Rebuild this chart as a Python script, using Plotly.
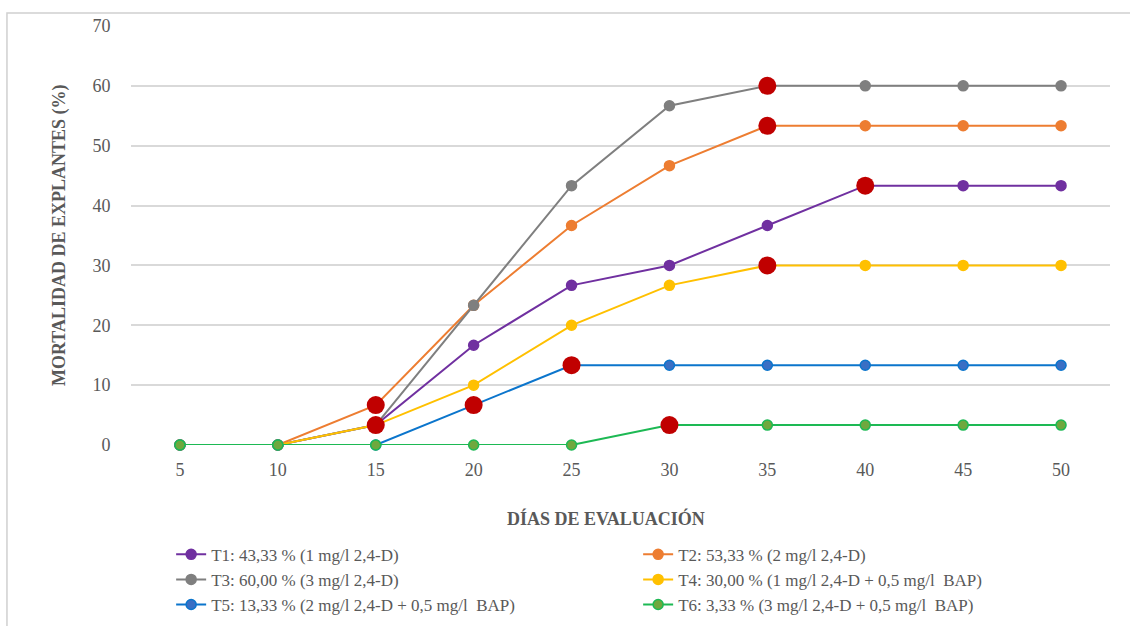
import plotly.graph_objects as go

# Días de evaluación y mortalidad (%) por tratamiento
dias = [5, 10, 15, 20, 25, 30, 35, 40, 45, 50]

t1 = [0, 0, 3.33, 16.67, 26.67, 30.00, 36.67, 43.33, 43.33, 43.33]
t2 = [0, 0, 6.67, 23.33, 36.67, 46.67, 53.33, 53.33, 53.33, 53.33]
t3 = [0, 0, 3.33, 23.33, 43.33, 56.67, 60.00, 60.00, 60.00, 60.00]
t4 = [0, 0, 3.33, 10.00, 20.00, 26.67, 30.00, 30.00, 30.00, 30.00]
t5 = [0, 0, 0, 6.67, 13.33, 13.33, 13.33, 13.33, 13.33, 13.33]
t6 = [0, 0, 0, 0, 0, 3.33, 3.33, 3.33, 3.33, 3.33]

nombres = [
    "T1: 43,33 % (1 mg/l 2,4-D)",
    "T2: 53,33 % (2 mg/l 2,4-D)",
    "T3: 60,00 % (3 mg/l 2,4-D)",
    "T4: 30,00 % (1 mg/l 2,4-D + 0,5 mg/l  BAP)",
    "T5: 13,33 % (2 mg/l 2,4-D + 0,5 mg/l  BAP)",
    "T6: 3,33 % (3 mg/l 2,4-D + 0,5 mg/l  BAP)",
]

# Puntos destacados (tratamiento, día)
destacados = [(2, 15), (4, 15), (5, 20), (5, 25), (6, 30),
              (3, 35), (2, 35), (4, 35), (1, 40)]

series = [t1, t2, t3, t4, t5, t6]
estilos = [
    dict(line="#7030A0", fill="#7030A0", edge="#7030A0"),
    dict(line="#ED7D31", fill="#ED7D31", edge="#ED7D31"),
    dict(line="#7F7F7F", fill="#7F7F7F", edge="#7F7F7F"),
    dict(line="#FFC000", fill="#FFC000", edge="#FFC000"),
    dict(line="#0B75CC", fill="#3A6FC4", edge="#0B75CC"),
    dict(line="#1DB954", fill="#6FA83E", edge="#1DB954"),
]

FONT = "Liberation Serif, Times New Roman, DejaVu Serif, serif"
GRIS = "#595959"

fig = go.Figure()
for vals, nombre, est in zip(series, nombres, estilos):
    fig.add_trace(go.Scatter(
        x=[str(d) for d in dias], y=vals, name=nombre,
        mode="lines+markers",
        line=dict(color=est["line"], width=2),
        marker=dict(size=10, color=est["fill"],
                    line=dict(color=est["edge"], width=1.5)),
        cliponaxis=False,
    ))

hx = [str(d) for _, d in destacados]
hy = [series[t - 1][dias.index(d)] for t, d in destacados]
fig.add_trace(go.Scatter(
    x=hx, y=hy, mode="markers", showlegend=False,
    marker=dict(size=18, color="#C00000"),
    cliponaxis=False,
))

fig.update_layout(
    width=1130, height=626,
    margin=dict(l=131, r=20, t=26, b=181, autoexpand=False),
    paper_bgcolor="white", plot_bgcolor="white",
    font=dict(family=FONT, color=GRIS, size=16),
    xaxis=dict(
        type="category", range=[-0.5, len(dias) - 0.5],
        showgrid=False, zeroline=False, showline=False,
        ticks="outside", ticklen=8, tickcolor="rgba(0,0,0,0)",
        tickfont=dict(family=FONT, size=18, color=GRIS),
    ),
    yaxis=dict(
        range=[0, 70], dtick=10, showgrid=True, gridcolor="#D9D9D9",
        gridwidth=1.5, zeroline=False, showline=False,
        ticks="outside", ticklen=16, tickcolor="rgba(0,0,0,0)",
        tickfont=dict(family=FONT, size=18, color=GRIS),
    ),
    legend=dict(
        orientation="h", x=0.041, xanchor="left", y=-0.219, yanchor="top",
        entrywidth=422, entrywidthmode="pixels",
        font=dict(family=FONT, size=17, color=GRIS),
        traceorder="normal", tracegroupgap=0,
    ),
    showlegend=True,
    annotations=[
        dict(text="<b>DÍAS DE EVALUACIÓN</b>", xref="paper", yref="paper",
             x=0.485, y=-0.175, xanchor="center", yanchor="middle",
             showarrow=False, font=dict(family=FONT, size=18, color=GRIS)),
        dict(text="<b>MORTALIDAD DE EXPLANTES (%)</b>", xref="paper",
             yref="paper", x=-0.073, y=0.5, textangle=-90,
             xanchor="center", yanchor="middle", showarrow=False,
             font=dict(family=FONT, size=18, color=GRIS)),
    ],
    shapes=[
        dict(type="rect", xref="paper", yref="paper",
             x0=-0.1267, x1=1.05, y0=-0.5, y1=1.031,
             line=dict(color="#D0D0D0", width=1.5), layer="below"),
    ],
)

fig.write_html("out.html")
